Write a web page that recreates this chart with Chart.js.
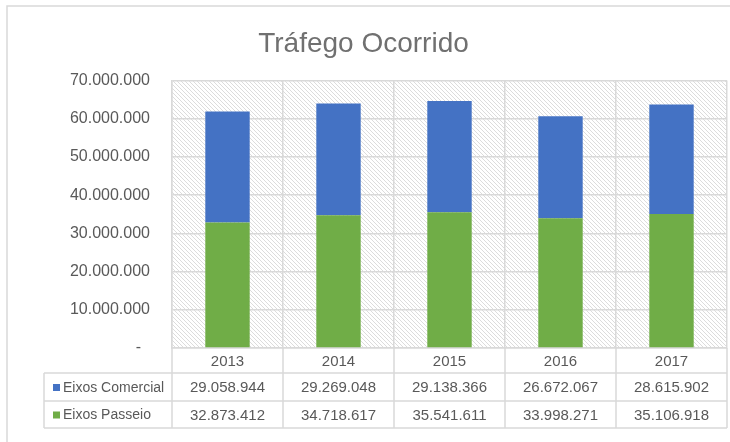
<!DOCTYPE html>
<html>
<head>
<meta charset="utf-8">
<title>Tráfego Ocorrido</title>
<script src="https://cdn.jsdelivr.net/npm/chart.js@4.4.1/dist/chart.umd.min.js"></script>
<style>
    html, body { margin: 0; padding: 0; background: #fff; }
    #wrap { width: 730px; height: 442px; position: relative; }
</style>
</head>
<body>
<div id="wrap"><canvas id="trafegoChart"></canvas></div>
<script>
// Data
const years = ['2013', '2014', '2015', '2016', '2017'];
const eixosComercial = [29058944, 29269048, 29138366, 26672067, 28615902];
const eixosPasseio = [32873412, 34718617, 35541611, 33998271, 35106918];
const yTicks = [0, 10000000, 20000000, 30000000, 40000000, 50000000, 60000000, 70000000];
const yTickLabels = ['-  ', '10.000.000', '20.000.000', '30.000.000', '40.000.000', '50.000.000', '60.000.000', '70.000.000'];

const seriesNames = ['Eixos Comercial', 'Eixos Passeio'];
const seriesColors = ['#4472C4', '#70AD47'];

const TEXT = '#595959';
const LINE = '#d9d9d9';
const FONT = "'Liberation Sans', Arial, sans-serif";

Chart.defaults.font.family = FONT;
Chart.defaults.color = TEXT;

// Format number with dots as thousand separators
function fmt(n) {
    return String(n).replace(/\B(?=(\d{3})+(?!\d))/g, '.');
}

// Light diagonal hatch used by the plot area
function makeHatch(ctx) {
    const c = document.createElement('canvas');
    c.width = 4;
    c.height = 4;
    const p = c.getContext('2d');
    p.fillStyle = '#ffffff';
    p.fillRect(0, 0, 4, 4);
    p.fillStyle = '#dcdcdc';
    for (let i = 0; i < 4; i++) {
        p.fillRect(i, i, 1, 1);
    }
    return ctx.createPattern(c, 'repeat');
}

// Plot background + outer frame
const backgroundPlugin = {
    id: 'hatchBackground',
    beforeDraw(chart) {
        const { ctx, chartArea } = chart;
        ctx.save();
        ctx.strokeStyle = LINE;
        ctx.lineWidth = 1.5;
        ctx.strokeRect(7, 6, 760, 480);
        ctx.fillStyle = makeHatch(ctx);
        ctx.fillRect(chartArea.left, chartArea.top, chartArea.right - chartArea.left, chartArea.bottom - chartArea.top);
        ctx.restore();
    }
};

// Data table under the plot (years, legend keys, values)
const dataTablePlugin = {
    id: 'dataTable',
    afterDraw(chart) {
        const { ctx, chartArea } = chart;
        const x = chart.scales.x;
        const half = (x.getPixelForValue(1) - x.getPixelForValue(0)) / 2;
        const top = chartArea.bottom;
        const rowY = [top, top + 25, top + 53, top + 80];
        const tableLeft = 44;

        ctx.save();
        ctx.strokeStyle = LINE;
        ctx.lineWidth = 1.5;
        ctx.beginPath();
        // horizontal rules
        for (let r = 1; r < rowY.length; r++) {
            ctx.moveTo(tableLeft, rowY[r]);
            ctx.lineTo(chartArea.right, rowY[r]);
        }
        // column rules
        for (let i = 0; i <= years.length; i++) {
            const px = x.getPixelForValue(i) - half;
            ctx.moveTo(px, top);
            ctx.lineTo(px, rowY[3]);
        }
        ctx.moveTo(tableLeft, rowY[1]);
        ctx.lineTo(tableLeft, rowY[3]);
        ctx.stroke();

        ctx.fillStyle = TEXT;
        ctx.font = '15px ' + FONT;
        ctx.textAlign = 'center';
        ctx.textBaseline = 'middle';
        years.forEach((y, i) => {
            ctx.fillText(y, x.getPixelForValue(i), (rowY[0] + rowY[1]) / 2 + 1);
        });

        const rows = [eixosComercial, eixosPasseio];
        rows.forEach((vals, r) => {
            const cy = (rowY[r + 1] + rowY[r + 2]) / 2;
            ctx.font = '15px ' + FONT;
            vals.forEach((v, i) => {
                ctx.fillStyle = TEXT;
                ctx.textAlign = 'center';
                ctx.fillText(fmt(v), x.getPixelForValue(i), cy + 1);
            });
            ctx.fillStyle = seriesColors[r];
            ctx.fillRect(53, cy - 3, 7, 7);
            ctx.fillStyle = TEXT;
            ctx.textAlign = 'left';
            ctx.font = '14px ' + FONT;
            ctx.fillText(seriesNames[r], 63, cy + 1);
        });
        ctx.restore();
    }
};

const ctx = document.getElementById('trafegoChart');

new Chart(ctx, {
    type: 'bar',
    data: {
        labels: years,
        datasets: [
            {
                label: seriesNames[1],
                data: eixosPasseio,
                backgroundColor: seriesColors[1],
                categoryPercentage: 1,
                barPercentage: 0.4
            },
            {
                label: seriesNames[0],
                data: eixosComercial,
                backgroundColor: seriesColors[0],
                categoryPercentage: 1,
                barPercentage: 0.4
            }
        ]
    },
    options: {
        responsive: true,
        maintainAspectRatio: false,
        animation: false,
        layout: {
            padding: { top: 0, left: 0, right: 3, bottom: 0 }
        },
        plugins: {
            legend: { display: false },
            tooltip: { enabled: false },
            title: {
                display: true,
                text: 'Tráfego Ocorrido',
                color: '#707070',
                font: { size: 28, weight: 'normal', lineHeight: 1.2 },
                padding: { top: 27, bottom: 20 }
            }
        },
        scales: {
            x: {
                stacked: true,
                grid: { color: LINE, lineWidth: 1.5, offset: true, drawTicks: false },
                border: { color: LINE, width: 1.5 },
                ticks: { display: false },
                afterFit(scale) { scale.height = 94; }
            },
            y: {
                stacked: true,
                min: 0,
                max: 70000000,
                afterBuildTicks(scale) {
                    scale.ticks = yTicks.map(v => ({ value: v }));
                },
                grid: { color: LINE, lineWidth: 1.5, drawTicks: false },
                border: { color: LINE, width: 1.5 },
                ticks: {
                    padding: 22,
                    color: TEXT,
                    font: { size: 16 },
                    callback: function(value, index) {
                        return yTickLabels[index];
                    }
                },
                afterFit(scale) { scale.width = 172; }
            }
        }
    },
    plugins: [backgroundPlugin, dataTablePlugin]
});
</script>
</body>
</html>
